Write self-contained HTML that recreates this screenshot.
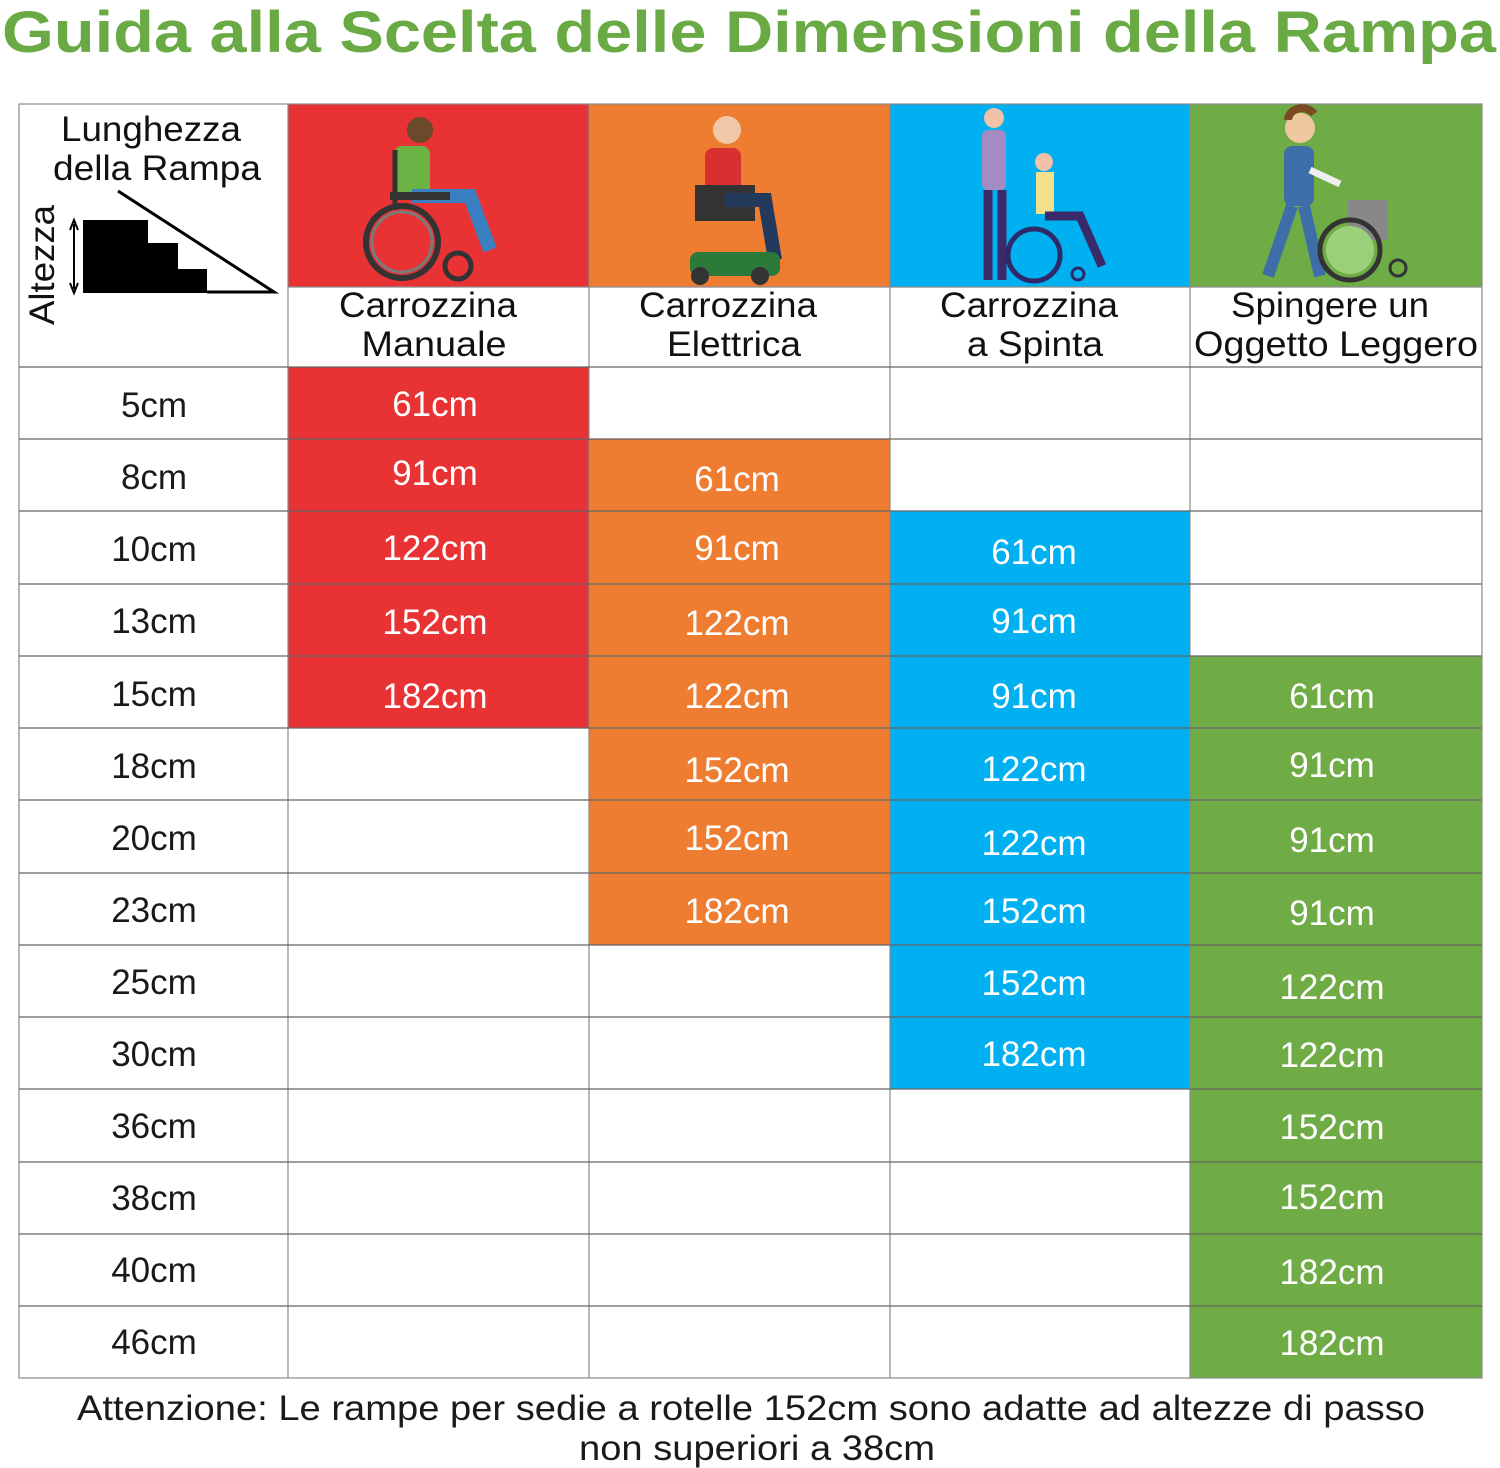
<!DOCTYPE html>
<html><head><meta charset="utf-8"><style>
html,body{margin:0;padding:0;background:#fff;}
svg{display:block;}
text{font-family:"Liberation Sans",sans-serif;}
</style></head><body>
<svg width="1500" height="1468" viewBox="0 0 1500 1468" xmlns="http://www.w3.org/2000/svg">
<text x="2" y="52" font-size="58" font-weight="bold" fill="#6aaa45" textLength="1494" lengthAdjust="spacingAndGlyphs">Guida alla Scelta delle Dimensioni della Rampa</text>

<rect x="288" y="104" width="301" height="183" fill="#e83234"/>
<rect x="589" y="104" width="301" height="183" fill="#ee7d32"/>
<rect x="890" y="104" width="300" height="183" fill="#00b0f0"/>
<rect x="1190" y="104" width="292" height="183" fill="#6fac46"/>

<g>
<rect x="288" y="367" width="301" height="361" fill="#e83234"/>
<rect x="589" y="439" width="301" height="506" fill="#ee7d32"/>
<rect x="890" y="511" width="300" height="578" fill="#00b0f0"/>
<rect x="1190" y="656" width="292" height="722" fill="#6fac46"/>
</g>

<g stroke="#8a8a8a" stroke-width="1.2" fill="none">
<rect x="19" y="104" width="1463" height="1274"/>
<line x1="288" y1="104" x2="288" y2="1378"/>
<line x1="589" y1="104" x2="589" y2="1378"/>
<line x1="890" y1="104" x2="890" y2="1378"/>
<line x1="1190" y1="104" x2="1190" y2="1378"/>
<line x1="288" y1="287" x2="1482" y2="287"/>
</g>
<g stroke="#666" stroke-width="1.2">
<line x1="19" y1="367" x2="1482" y2="367"/>
<line x1="19" y1="439" x2="1482" y2="439"/>
<line x1="19" y1="511" x2="1482" y2="511"/>
<line x1="19" y1="584" x2="1482" y2="584"/>
<line x1="19" y1="656" x2="1482" y2="656"/>
<line x1="19" y1="728" x2="1482" y2="728"/>
<line x1="19" y1="800" x2="1482" y2="800"/>
<line x1="19" y1="873" x2="1482" y2="873"/>
<line x1="19" y1="945" x2="1482" y2="945"/>
<line x1="19" y1="1017" x2="1482" y2="1017"/>
<line x1="19" y1="1089" x2="1482" y2="1089"/>
<line x1="19" y1="1162" x2="1482" y2="1162"/>
<line x1="19" y1="1234" x2="1482" y2="1234"/>
<line x1="19" y1="1306" x2="1482" y2="1306"/>
</g>

<g fill="#111" font-size="35">
<text x="151" y="141" text-anchor="middle" textLength="180" lengthAdjust="spacingAndGlyphs">Lunghezza</text>
<text x="157" y="180" text-anchor="middle" textLength="208" lengthAdjust="spacingAndGlyphs">della Rampa</text>
<text transform="translate(54,265) rotate(-90)" text-anchor="middle" textLength="120" lengthAdjust="spacingAndGlyphs">Altezza</text>
</g>
<path d="M83 220 H148 V243 H178 V269 H207 V293 H83 Z" fill="#000"/>
<path d="M118 191 L274 292 H207" stroke="#000" stroke-width="3" fill="none"/>
<line x1="74" y1="224" x2="74" y2="289" stroke="#000" stroke-width="2"/>
<path d="M70 230 L74 220 L78 230 M70 283 L74 293 L78 283" stroke="#000" stroke-width="2" fill="none"/>

<g fill="#111" font-size="35" text-anchor="middle">
<text x="428" y="317" textLength="178" lengthAdjust="spacingAndGlyphs">Carrozzina</text><text x="434" y="356" textLength="145" lengthAdjust="spacingAndGlyphs">Manuale</text>
<text x="728" y="317" textLength="178" lengthAdjust="spacingAndGlyphs">Carrozzina</text><text x="734" y="356" textLength="134" lengthAdjust="spacingAndGlyphs">Elettrica</text>
<text x="1029" y="317" textLength="178" lengthAdjust="spacingAndGlyphs">Carrozzina</text><text x="1035" y="356" textLength="136" lengthAdjust="spacingAndGlyphs">a Spinta</text>
<text x="1330" y="317" textLength="198" lengthAdjust="spacingAndGlyphs">Spingere un</text><text x="1336" y="356" textLength="284" lengthAdjust="spacingAndGlyphs">Oggetto Leggero</text>
</g>

<g>
<circle cx="402" cy="242" r="36" fill="none" stroke="#333" stroke-width="6"/>
<circle cx="402" cy="242" r="30" fill="none" stroke="#7a7a7a" stroke-width="3"/>
<circle cx="458" cy="266" r="13" fill="none" stroke="#333" stroke-width="5"/>
<rect x="394" y="146" width="36" height="50" rx="8" fill="#6ab344"/>
<circle cx="420" cy="130" r="13" fill="#6b4a2b"/>
<path d="M412 196 H470 L490 250" stroke="#3a7fc1" stroke-width="14" fill="none"/>
<rect x="390" y="192" width="60" height="8" fill="#333"/>
<line x1="395" y1="150" x2="395" y2="210" stroke="#333" stroke-width="5"/>
</g>
<g>
<circle cx="727" cy="130" r="14" fill="#f0c8a8"/>
<rect x="705" y="148" width="36" height="45" rx="8" fill="#d83030"/>
<rect x="695" y="185" width="60" height="36" fill="#333"/>
<path d="M725 200 H765 L775 260" stroke="#233a5c" stroke-width="14" fill="none"/>
<rect x="690" y="252" width="90" height="24" rx="8" fill="#2c7a3a"/>
<circle cx="700" cy="276" r="9" fill="#333"/><circle cx="760" cy="276" r="9" fill="#333"/>
</g>
<g>
<circle cx="994" cy="118" r="10" fill="#f3c0a8"/>
<rect x="982" y="130" width="24" height="60" rx="6" fill="#a58bc4"/>
<path d="M988 190 V280 M1002 190 V280" stroke="#3a2a6a" stroke-width="9"/>
<circle cx="1044" cy="162" r="9" fill="#f3c0a8"/>
<rect x="1036" y="172" width="18" height="42" fill="#f3e08a"/>
<path d="M1045 216 H1080 L1102 266" stroke="#3a2a6a" stroke-width="9" fill="none"/>
<circle cx="1034" cy="255" r="26" fill="none" stroke="#2e2a6a" stroke-width="5"/>
<circle cx="1078" cy="274" r="6" fill="none" stroke="#2e2a6a" stroke-width="3"/>
</g>
<g>
<circle cx="1300" cy="128" r="15" fill="#f0c8a0"/>
<path d="M1288 120 a14 12 0 0 1 26 -6" stroke="#7a4a22" stroke-width="8" fill="none"/>
<rect x="1284" y="146" width="30" height="60" rx="8" fill="#3e6ea8"/>
<path d="M1292 206 L1268 276 M1304 206 L1320 276" stroke="#3e6ea8" stroke-width="12"/>
<path d="M1310 170 L1340 184" stroke="#eee" stroke-width="7"/>
<rect x="1348" y="200" width="40" height="40" fill="#888"/>
<circle cx="1350" cy="250" r="30" fill="none" stroke="#333" stroke-width="5"/>
<circle cx="1350" cy="250" r="24" fill="#9ad07a"/>
<circle cx="1398" cy="268" r="8" fill="none" stroke="#333" stroke-width="3"/>
</g>

<g fill="#1a1a1a" font-size="35" text-anchor="middle">
<text x="154" y="417">5cm</text>
<text x="154" y="489">8cm</text>
<text x="154" y="561">10cm</text>
<text x="154" y="633">13cm</text>
<text x="154" y="706">15cm</text>
<text x="154" y="778">18cm</text>
<text x="154" y="850">20cm</text>
<text x="154" y="922">23cm</text>
<text x="154" y="994">25cm</text>
<text x="154" y="1066">30cm</text>
<text x="154" y="1138">36cm</text>
<text x="154" y="1210">38cm</text>
<text x="154" y="1282">40cm</text>
<text x="154" y="1354">46cm</text>
</g>

<g fill="#fff" font-size="35" text-anchor="middle">
<text x="435" y="416">61cm</text>
<text x="435" y="485">91cm</text>
<text x="435" y="560">122cm</text>
<text x="435" y="634">152cm</text>
<text x="435" y="708">182cm</text>

<text x="737" y="491">61cm</text>
<text x="737" y="560">91cm</text>
<text x="737" y="635">122cm</text>
<text x="737" y="708">122cm</text>
<text x="737" y="782">152cm</text>
<text x="737" y="850">152cm</text>
<text x="737" y="923">182cm</text>

<text x="1034" y="564">61cm</text>
<text x="1034" y="633">91cm</text>
<text x="1034" y="708">91cm</text>
<text x="1034" y="781">122cm</text>
<text x="1034" y="855">122cm</text>
<text x="1034" y="923">152cm</text>
<text x="1034" y="995">152cm</text>
<text x="1034" y="1066">182cm</text>

<text x="1332" y="708">61cm</text>
<text x="1332" y="777">91cm</text>
<text x="1332" y="852">91cm</text>
<text x="1332" y="925">91cm</text>
<text x="1332" y="999">122cm</text>
<text x="1332" y="1067">122cm</text>
<text x="1332" y="1139">152cm</text>
<text x="1332" y="1209">152cm</text>
<text x="1332" y="1284">182cm</text>
<text x="1332" y="1355">182cm</text>
</g>

<g fill="#1a1a1a" font-size="35" text-anchor="middle">
<text x="751" y="1420" textLength="1348" lengthAdjust="spacingAndGlyphs">Attenzione: Le rampe per sedie a rotelle 152cm sono adatte ad altezze di passo</text>
<text x="757" y="1460" textLength="356" lengthAdjust="spacingAndGlyphs">non superiori a 38cm</text>
</g>
</svg>
</body></html>
